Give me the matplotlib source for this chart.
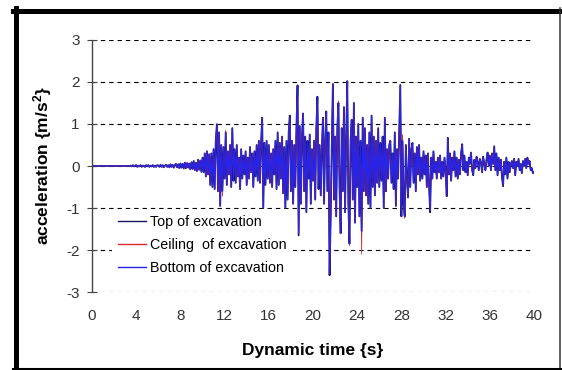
import numpy as np
import matplotlib.pyplot as plt
from matplotlib.lines import Line2D

plt.rcParams['font.family'] = ['Liberation Sans', 'DejaVu Sans']
plt.rcParams['axes.unicode_minus'] = False
plt.rcParams['mathtext.fontset'] = 'custom'
plt.rcParams['mathtext.bf'] = 'Liberation Sans:bold'

# sampling step of the records (s)
dt = 0.1

# acceleration records (m/s2), one row per second
bottom = [
    0, 0, 0, 0, 0, 0, 0, 0, 0, 0,
    0, 0, 0, 0, 0, 0, 0, 0, 0, 0,
    0, 0, 0, 0, 0, 0, 0, 0, 0, 0,
    0, 0, 0, 0, 0, 0.01, -0.01, 0.02, -0.01, 0.01,
    0.02, -0.02, 0.01, -0.01, 0.02, -0.02, 0.01, 0.0, -0.02, 0.02,
    -0.01, 0.02, -0.02, 0.01, -0.01, 0.02, -0.02, 0.01, -0.02, 0.02,
    0.01, -0.02, 0.03, -0.02, 0.02, -0.03, 0.01, 0.03, -0.02, 0.02,
    -0.03, 0.04, -0.02, 0.03, -0.04, 0.02, 0.05, -0.03, 0.04, -0.05,
    0.06, -0.04, 0.05, -0.06, 0.08, -0.05, 0.07, -0.04, 0.06, -0.08,
    0.09, -0.07, 0.12, -0.1, 0.08, -0.12, 0.15, -0.09, 0.13, -0.14,
    0.2, -0.15, 0.3, -0.25, 0.35, -0.2, 0.28, -0.45, 0.3, -0.5,
    0.4, -0.55, 0.6, 1.0, -0.6, 0.8, -0.95, 0.5, -0.6, 0.45,
    -0.3, 0.8, -0.45, 0.35, -0.2, 0.5, -0.5, 0.9, -0.35, 0.4,
    -0.4, 0.5, -0.25, 0.2, -0.55, 0.4, -0.3, 0.25, -0.2, 0.35,
    -0.45, 0.2, -0.3, 0.45, -0.15, 0.3, -0.5, 0.35, -0.25, 0.5,
    -0.35, 0.6, -0.4, 0.55, 1.15, -1.0, 0.55, -0.45, 0.6, -0.3,
    0.5, -0.4, 0.3, -0.5, 0.4, -0.2, 0.6, -0.55, 0.8, -0.45,
    0.55, -0.3, 0.7, -0.65, 0.45, -1.0, 0.6, -0.8, 0.8, 1.15,
    -0.6, 0.6, -0.9, 0.5, -0.5, 0.9, 1.9, -1.6, 0.95, -0.9,
    0.7, 1.25, -0.6, 0.7, -1.1, 0.6, -0.3, 0.75, -0.9, 0.4,
    -0.35, 0.6, -0.8, 0.9, 1.65, -0.55, 0.5, -0.7, 0.4, 1.15,
    -0.9, 0.6, 1.3, -0.6, 0.8, -2.55, -1.2, 0.5, 1.95, -0.8,
    0.7, -1.2, 0.9, 1.5, -0.5, -1.6, 0.9, -0.6, 1.4, -1.1,
    0.6, 2.0, -0.9, -1.85, 0.6, 1.1, -0.8, 1.5, -1.35, 0.7,
    -0.5, 1.0, -1.2, 0.6, -1.55, 1.15, -0.6, 0.9, -0.7, 0.5,
    -0.9, 0.8, -1.0, 1.2, -0.5, 0.7, -0.7, 0.6, -0.4, 0.9,
    -0.5, 0.55, -0.35, 0.7, -1.0, 1.15, -0.6, 0.4, -0.3, 0.5,
    0.6, -0.4, 0.3, -0.55, 0.8, -0.95, 0.4, -0.3, 0.85, 1.9,
    -1.2, 0.6, -0.9, -1.2, 0.5, -0.3, -0.75, 0.65, -0.5, 0.4,
    0.55, -0.4, 0.3, -0.6, 0.45, -0.2, 0.5, -0.35, 0.2, -0.3,
    0.35, -0.2, 0.25, -0.5, 0.3, -0.45, -1.05, 0.2, -0.3, 0.35,
    -0.15, 0.1, -0.3, 0.2, -0.15, 0.25, -0.3, 0.1, -0.25, 0.2,
    -0.1, -0.7, 0.65, -0.2, 0.3, -0.35, 0.2, -0.1, 0.35, -0.25,
    0.2, -0.3, 0.15, -0.2, 0.3, 0.5, -0.1, 0.25, -0.15, 0.1,
    -0.2, 0.2, 0.05, 0.3, -0.1, -0.2, 0.15, -0.05, 0.2, 0.1,
    -0.1, 0.15, 0.1, -0.15, 0.2, 0.05, -0.1, 0.15, 0.3, 0.0,
    0.25, -0.1, 0.3, 0.05, 0.45, -0.1, 0.3, -0.2, 0.2, -0.1,
    0.15, -0.25, -0.45, 0.1, -0.2, 0.2, -0.3, 0.1, -0.15, 0.05,
    0.1, -0.05, 0.15, -0.2, 0.1, 0.0, 0.15, -0.1, 0.05, -0.15,
    0.1, 0.0, 0.15, -0.05, 0.2, 0.05, 0.1, -0.1, -0.05, -0.15,
    -0.15,
]

ceiling = [
    0, 0, 0, 0, 0, 0, 0, 0, 0, 0,
    0, 0, 0, 0, 0, 0, 0, 0, 0, 0,
    0, 0, 0, 0, 0, 0, 0, 0, 0, 0,
    0, 0, 0, 0, 0, 0.01, -0.01, 0.02, -0.01, 0.01,
    0.02, -0.02, 0.01, -0.01, 0.02, -0.02, 0.01, 0.0, -0.02, 0.02,
    -0.01, 0.02, -0.02, 0.01, -0.01, 0.02, -0.02, 0.01, -0.02, 0.02,
    0.01, -0.02, 0.03, -0.02, 0.02, -0.03, 0.01, 0.03, -0.02, 0.02,
    -0.03, 0.04, -0.02, 0.03, -0.04, 0.02, 0.05, -0.03, 0.04, -0.05,
    0.06, -0.04, 0.05, -0.06, 0.08, -0.05, 0.07, -0.04, 0.06, -0.08,
    0.09, -0.07, 0.12, -0.1, 0.08, -0.12, 0.15, -0.09, 0.13, -0.14,
    0.2, -0.15, 0.3, -0.25, 0.35, -0.2, 0.28, -0.45, 0.3, -0.5,
    0.4, -0.55, 0.6, 1.02, -0.6, 0.8, -0.95, 0.5, -0.72, 0.45,
    -0.3, 0.85, -0.45, 0.35, -0.2, 0.5, -0.5, 0.9, -0.35, 0.4,
    -0.4, 0.5, -0.25, 0.2, -0.55, 0.4, -0.3, 0.25, -0.2, 0.35,
    -0.45, 0.2, -0.3, 0.45, -0.15, 0.3, -0.5, 0.35, -0.25, 0.5,
    -0.35, 0.6, -0.4, 0.55, 1.15, -1.0, 0.55, -0.45, 0.6, -0.3,
    0.5, -0.4, 0.3, -0.5, 0.4, -0.2, 0.6, -0.55, 0.8, -0.45,
    0.55, -0.3, 0.7, -0.65, 0.45, -1.0, 0.6, -0.8, 0.8, 1.15,
    -0.6, 0.6, -0.9, 0.5, -0.5, 0.9, 1.9, -1.6, 0.95, -0.9,
    0.7, 1.25, -0.6, 0.7, -1.1, 0.6, -0.3, 0.75, -0.9, 0.4,
    -0.35, 0.6, -0.8, 0.9, 1.6, -0.55, 0.5, -0.7, 0.4, 1.15,
    -0.9, 0.6, 1.3, -0.6, 0.8, -2.55, -1.2, 0.5, 1.97, -0.8,
    0.7, -1.2, 0.9, 1.55, -0.5, -1.6, 0.9, -0.6, 1.4, -1.1,
    0.6, 2.0, -0.9, -1.9, 0.6, 1.1, -0.8, 1.5, -1.35, 0.7,
    -0.5, 1.0, -1.2, 0.6, -2.1, 1.15, -0.6, 0.9, -0.7, 0.5,
    -0.9, 0.8, -1.0, 1.2, -0.5, 0.7, -0.7, 0.6, -0.4, 0.9,
    -0.5, 0.55, -0.35, 0.7, -1.0, 1.15, -0.6, 0.4, -0.3, 0.5,
    0.6, -0.4, 0.3, -0.55, 0.8, -0.95, 0.4, -0.3, 0.85, 1.9,
    -1.2, 0.75, -0.9, -1.25, 0.5, -0.3, -0.75, 0.65, -0.5, 0.4,
    0.55, -0.4, 0.3, -0.6, 0.45, -0.2, 0.5, -0.35, 0.2, -0.3,
    0.35, -0.2, 0.25, -0.5, 0.3, -0.45, -1.05, 0.2, -0.3, 0.35,
    -0.15, 0.1, -0.3, 0.2, -0.15, 0.25, -0.3, 0.1, -0.25, 0.2,
    -0.1, -0.7, 0.65, -0.2, 0.3, -0.35, 0.2, -0.1, 0.35, -0.25,
    0.2, -0.3, 0.15, -0.2, 0.3, 0.5, -0.1, 0.25, -0.15, 0.1,
    -0.2, 0.2, 0.05, 0.3, -0.1, -0.2, 0.15, -0.05, 0.2, 0.1,
    -0.1, 0.15, 0.1, -0.15, 0.2, 0.05, -0.1, 0.15, 0.3, 0.0,
    0.25, -0.1, 0.3, 0.05, 0.45, -0.1, 0.3, -0.2, 0.2, -0.1,
    0.15, -0.25, -0.45, 0.1, -0.2, 0.2, -0.3, 0.1, -0.15, 0.05,
    0.1, -0.05, 0.15, -0.2, 0.1, 0.0, 0.15, -0.1, 0.05, -0.15,
    0.1, 0.0, 0.15, -0.05, 0.2, 0.05, 0.1, -0.1, -0.05, -0.15,
    -0.15,
]

top = [
    0, 0, 0, 0, 0, 0, 0, 0, 0, 0,
    0, 0, 0, 0, 0, 0, 0, 0, 0, 0,
    0, 0, 0, 0, 0, 0, 0, 0, 0, 0,
    0, 0, 0, 0, 0, 0.01, -0.01, 0.02, -0.01, 0.01,
    0.02, -0.02, 0.01, -0.01, 0.02, -0.02, 0.01, 0.0, -0.02, 0.02,
    -0.01, 0.02, -0.02, 0.01, -0.01, 0.02, -0.02, 0.01, -0.02, 0.02,
    0.01, -0.02, 0.03, -0.02, 0.02, -0.03, 0.01, 0.03, -0.02, 0.02,
    -0.03, 0.04, -0.02, 0.03, -0.04, 0.02, 0.05, -0.03, 0.04, -0.05,
    0.06, -0.04, 0.05, -0.06, 0.08, -0.05, 0.07, -0.04, 0.06, -0.08,
    0.09, -0.07, 0.12, -0.1, 0.08, -0.12, 0.15, -0.09, 0.13, -0.14,
    0.2, -0.15, 0.3, -0.25, 0.35, -0.2, 0.28, -0.45, 0.3, -0.5,
    0.4, -0.55, 0.6, 0.98, -0.6, 0.8, -0.95, 0.5, -0.6, 0.45,
    -0.3, 0.8, -0.45, 0.35, -0.2, 0.5, -0.5, 0.9, -0.35, 0.4,
    -0.4, 0.5, -0.25, 0.2, -0.55, 0.4, -0.3, 0.25, -0.2, 0.35,
    -0.45, 0.2, -0.3, 0.45, -0.15, 0.3, -0.5, 0.35, -0.25, 0.5,
    -0.35, 0.6, -0.4, 0.55, 1.15, -1.0, 0.55, -0.45, 0.6, -0.3,
    0.5, -0.4, 0.3, -0.5, 0.4, -0.2, 0.6, -0.55, 0.8, -0.45,
    0.55, -0.3, 0.7, -0.65, 0.45, -1.02, 0.6, -0.8, 0.8, 1.2,
    -0.6, 0.6, -0.9, 0.5, -0.5, 0.9, 1.92, -1.65, 0.95, -0.9,
    0.7, 1.25, -0.6, 0.7, -1.1, 0.6, -0.3, 0.75, -0.9, 0.4,
    -0.35, 0.6, -0.8, 0.9, 1.65, -0.55, 0.5, -0.7, 0.4, 1.15,
    -0.9, 0.6, 1.3, -0.6, 0.8, -2.6, -1.2, 0.5, 1.95, -0.8,
    0.7, -1.2, 0.9, 1.5, -0.5, -1.6, 0.9, -0.6, 1.4, -1.1,
    0.6, 2.02, -0.9, -1.85, 0.6, 1.1, -0.8, 1.5, -1.35, 0.7,
    -0.5, 1.0, -1.2, 0.6, -1.55, 1.15, -0.6, 0.9, -0.7, 0.5,
    -0.9, 0.8, -1.0, 1.2, -0.5, 0.7, -0.7, 0.6, -0.4, 0.9,
    -0.5, 0.55, -0.35, 0.7, -1.0, 1.15, -0.6, 0.4, -0.3, 0.5,
    0.6, -0.4, 0.3, -0.55, 0.8, -0.95, 0.4, -0.3, 0.85, 1.93,
    -1.2, 0.6, -0.9, -1.2, 0.5, -0.3, -0.75, 0.65, -0.5, 0.4,
    0.55, -0.4, 0.3, -0.6, 0.45, -0.2, 0.5, -0.35, 0.2, -0.3,
    0.35, -0.2, 0.25, -0.5, 0.3, -0.45, -1.1, 0.2, -0.3, 0.35,
    -0.15, 0.1, -0.3, 0.2, -0.15, 0.25, -0.3, 0.1, -0.25, 0.2,
    -0.1, -0.72, 0.67, -0.2, 0.3, -0.35, 0.2, -0.1, 0.35, -0.25,
    0.2, -0.3, 0.15, -0.2, 0.3, 0.52, -0.1, 0.25, -0.15, 0.1,
    -0.22, 0.2, 0.05, 0.32, -0.1, -0.22, 0.15, -0.05, 0.22, 0.1,
    -0.1, 0.17, 0.1, -0.15, 0.22, 0.05, -0.1, 0.15, 0.32, 0.0,
    0.25, -0.1, 0.3, 0.05, 0.47, -0.1, 0.3, -0.22, 0.2, -0.1,
    0.15, -0.27, -0.48, 0.1, -0.2, 0.2, -0.3, 0.1, -0.15, 0.05,
    0.12, -0.05, 0.17, -0.22, 0.1, 0.0, 0.17, -0.1, 0.05, -0.17,
    0.12, 0.0, 0.17, -0.05, 0.2, 0.05, 0.12, -0.1, -0.05, -0.17,
    -0.15,
]

t = np.arange(len(bottom)) * dt

fig = plt.figure(figsize=(5.62, 3.70), dpi=100)
ax = fig.add_axes([0.1637, 0.2108, 0.7865, 0.6811])

ax.plot(t, top, color='#16165e', linewidth=1.3, label='Top of excavation')
ax.plot(t, ceiling, color='#d42a2a', linewidth=0.6, label='Ceiling  of excavation')
ax.plot(t, bottom, color='#2424ee', linewidth=0.8, label='Bottom of excavation')

ax.set_xlim(0, 40)
ax.set_ylim(-3, 3)
ax.set_xticks(range(0, 41, 4))
ax.set_yticks(range(-3, 4))

# dashed horizontal grid, only the y axis line kept
ax.set_axisbelow(True)
ax.yaxis.grid(True, color='black', linestyle=(0, (4, 3.5)), linewidth=0.8)
for side in ['top', 'right', 'bottom']:
    ax.spines[side].set_visible(False)
ax.spines['left'].set_color('#444444')
ax.spines['left'].set_linewidth(1.0)

ax.tick_params(axis='x', length=0, pad=12, labelsize=11, labelcolor='#333333')
ax.tick_params(axis='y', direction='inout', length=7, width=0.8, color='#444444',
               pad=5.5, labelsize=11, labelcolor='#333333')

leg = ax.legend(loc='upper left', bbox_to_anchor=(112 / 562, 1 - 209 / 370),
                bbox_transform=fig.transFigure, frameon=True, facecolor='white',
                edgecolor='none', framealpha=1, fancybox=False, fontsize=10.3,
                handlelength=1.95, handletextpad=0.25, labelspacing=0.6,
                borderpad=0.45, borderaxespad=0)
for line in leg.get_lines():
    line.set_linewidth(1.0)

fig.text(313 / 562, 1 - 354.5 / 370, 'Dynamic time {s}', ha='center', va='baseline',
         fontsize=12.5, fontweight='bold')
fig.text(43 / 562, 1 - 166 / 370, r'acceleration {m/s$\mathbf{^2}$}', ha='center',
         va='center', rotation=90, fontsize=12.5, fontweight='bold')

# black frame around the picture
fig.add_artist(Line2D([15.5 / 562, 15.5 / 562], [0, 1 - 8 / 370],
                      transform=fig.transFigure, color='black', linewidth=3.6))
fig.add_artist(Line2D([13 / 562, 561 / 562], [1 - 10.8 / 370, 1 - 10.8 / 370],
                      transform=fig.transFigure, color='black', linewidth=3.6))
fig.add_artist(Line2D([560 / 562, 560 / 562], [0, 1 - 8 / 370],
                      transform=fig.transFigure, color='#333333', linewidth=1.1))
fig.add_artist(Line2D([13 / 562, 561 / 562], [1 - 368.5 / 370, 1 - 368.5 / 370],
                      transform=fig.transFigure, color='black', linewidth=2.2))

fig.savefig('out.png', dpi=100)
